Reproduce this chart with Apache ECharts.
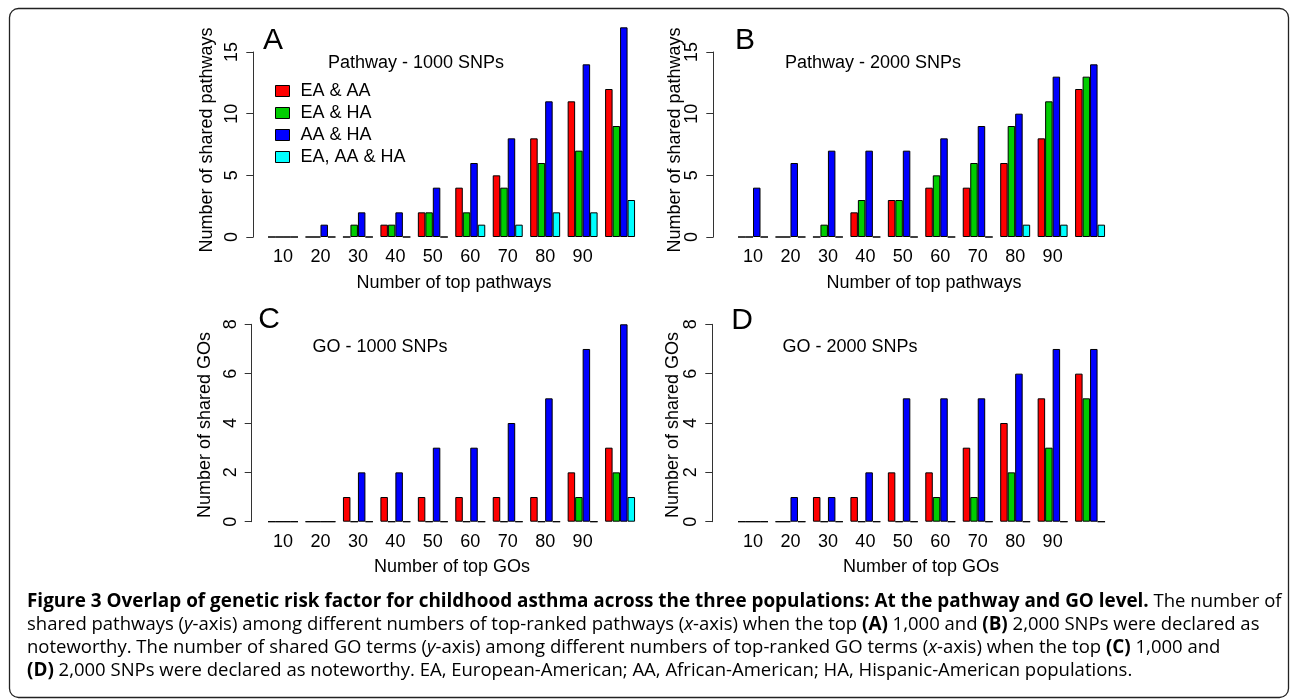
<!DOCTYPE html>
<html>
<head>
<meta charset="utf-8">
<script src="https://cdn.jsdelivr.net/npm/echarts@6/dist/echarts.min.js"></script>
<style>
html,body{margin:0;padding:0;background:#fff;}
#c{width:1290px;height:700px;}
</style>
</head>
<body>
<div id="c"></div>
<script>
// ---------- data ----------
const categories = ['10', '20', '30', '40', '50', '60', '70', '80', '90', ''];
const seriesNames = ['EA & AA', 'EA & HA', 'AA & HA', 'EA, AA & HA'];

// Panel A: Pathway - 1000 SNPs
const A_EA_AA   = [0, 0, 0, 1, 2, 4, 5, 8, 11, 12];
const A_EA_HA   = [0, 0, 1, 1, 2, 2, 4, 6, 7, 9];
const A_AA_HA   = [0, 1, 2, 2, 4, 6, 8, 11, 14, 17];
const A_ALL     = [0, 0, 0, 0, 0, 1, 1, 2, 2, 3];
// Panel B: Pathway - 2000 SNPs
const B_EA_AA   = [0, 0, 0, 2, 3, 4, 4, 6, 8, 12];
const B_EA_HA   = [0, 0, 1, 3, 3, 5, 6, 9, 11, 13];
const B_AA_HA   = [4, 6, 7, 7, 7, 8, 9, 10, 13, 14];
const B_ALL     = [0, 0, 0, 0, 0, 0, 0, 1, 1, 1];
// Panel C: GO - 1000 SNPs
const C_EA_AA   = [0, 0, 1, 1, 1, 1, 1, 1, 2, 3];
const C_EA_HA   = [0, 0, 0, 0, 0, 0, 0, 0, 1, 2];
const C_AA_HA   = [0, 0, 2, 2, 3, 3, 4, 5, 7, 8];
const C_ALL     = [0, 0, 0, 0, 0, 0, 0, 0, 0, 1];
// Panel D: GO - 2000 SNPs
const D_EA_AA   = [0, 0, 1, 1, 2, 2, 3, 4, 5, 6];
const D_EA_HA   = [0, 0, 0, 0, 0, 1, 1, 2, 3, 5];
const D_AA_HA   = [0, 1, 1, 2, 5, 5, 5, 6, 7, 7];
const D_ALL     = [0, 0, 0, 0, 0, 0, 0, 0, 0, 0];

const yTicksPathway = [0, 5, 10, 15];
const yTicksGO = [0, 2, 4, 6, 8];

// ---------- styling / layout ----------
const barColors = ['#FF0000', '#00CD00', '#0000FF', '#00FFFF'];
const FONT = 'Liberation Sans, Arial, sans-serif';

const panels = [
  { letter: 'A', title: 'Pathway - 1000 SNPs', xName: 'Number of top pathways', yName: 'Number of shared pathways',
    data: [A_EA_AA, A_EA_HA, A_AA_HA, A_ALL], ticks: yTicksPathway,
    grid: { left: 264.3, top: 52, width: 374.5, height: 185 }, axisX: 253.3,
    letterPos: [273, 41], titlePos: [416, 63], xNamePos: [454, 283], yNamePos: [207, 140] },
  { letter: 'B', title: 'Pathway - 2000 SNPs', xName: 'Number of top pathways', yName: 'Number of shared pathways',
    data: [B_EA_AA, B_EA_HA, B_AA_HA, B_ALL], ticks: yTicksPathway,
    grid: { left: 734.3, top: 52, width: 374.5, height: 185 }, axisX: 713.3,
    letterPos: [745, 41], titlePos: [873, 63], xNamePos: [924, 283], yNamePos: [675, 140] },
  { letter: 'C', title: 'GO - 1000 SNPs', xName: 'Number of top GOs', yName: 'Number of shared GOs',
    data: [C_EA_AA, C_EA_HA, C_AA_HA, C_ALL], ticks: yTicksGO,
    grid: { left: 264.3, top: 324.3, width: 374.5, height: 197.4 }, axisX: 251.7,
    letterPos: [269, 320], titlePos: [380, 347], xNamePos: [452, 567], yNamePos: [205, 425] },
  { letter: 'D', title: 'GO - 2000 SNPs', xName: 'Number of top GOs', yName: 'Number of shared GOs',
    data: [D_EA_AA, D_EA_HA, D_AA_HA, D_ALL], ticks: yTicksGO,
    grid: { left: 734.3, top: 324.3, width: 374.5, height: 197.4 }, axisX: 712.3,
    letterPos: [742, 321], titlePos: [850, 347], xNamePos: [921, 567], yNamePos: [673, 425] }
];

const grids = [], xAxes = [], yAxes = [], series = [], graphics = [];

panels.forEach((p, i) => {
  grids.push(Object.assign({ containLabel: false }, p.grid));
  xAxes.push({
    type: 'category', gridIndex: i, data: categories,
    axisLine: { show: false }, axisTick: { show: false }, splitLine: { show: false },
    axisLabel: { interval: 0, fontFamily: FONT, fontSize: 18, color: '#000', margin: 11 }
  });
  const t = p.ticks;
  yAxes.push({
    type: 'value', gridIndex: i, min: t[0], max: t[t.length - 1], interval: t[1] - t[0],
    offset: p.grid.left - p.axisX,
    axisLine: { show: true, lineStyle: { color: '#333', width: 1 } },
    axisTick: { show: true, length: 7, lineStyle: { color: '#333' } },
    splitLine: { show: false },
    axisLabel: { rotate: 90, fontFamily: FONT, fontSize: 18, color: '#000', margin: 12 }
  });
  p.data.forEach((arr, k) => {
    series.push({
      type: 'bar', name: seriesNames[k], xAxisIndex: i, yAxisIndex: i, data: arr,
      barGap: '0%', barCategoryGap: '20%', clip: false,
      itemStyle: { color: barColors[k], borderColor: '#000', borderWidth: 1 },
      emphasis: { disabled: true }
    });
  });
  graphics.push({ type: 'text', x: p.letterPos[0], y: p.letterPos[1],
    style: { text: p.letter, font: '30px ' + FONT, fill: '#000', textAlign: 'center', textVerticalAlign: 'middle' } });
  graphics.push({ type: 'text', x: p.titlePos[0], y: p.titlePos[1],
    style: { text: p.title, font: '18px ' + FONT, fill: '#000', textAlign: 'center', textVerticalAlign: 'middle' } });
  graphics.push({ type: 'text', x: p.xNamePos[0], y: p.xNamePos[1],
    style: { text: p.xName, font: '18px ' + FONT, fill: '#000', textAlign: 'center', textVerticalAlign: 'middle' } });
  graphics.push({ type: 'text', x: p.yNamePos[0], y: p.yNamePos[1], rotation: Math.PI / 2,
    style: { text: p.yName, font: '18px ' + FONT, fill: '#000', textAlign: 'center', textVerticalAlign: 'middle' } });
});

// outer rounded frame
graphics.push({ type: 'rect', shape: { x: 9.5, y: 8.5, width: 1279, height: 689, r: 9 },
  style: { fill: 'none', stroke: '#222', lineWidth: 1.3 }, z: -1 });

// caption
const CAP = 'Open Sans, sans-serif';
const CAPSIZE = 18.5;
const capRich = {
  b: { fontFamily: CAP, fontWeight: 'bold', fontSize: 18.9, color: '#000' },
  n: { fontFamily: CAP, fontSize: CAPSIZE, color: '#3c3c3c' },
  i: { fontFamily: CAP, fontSize: CAPSIZE, fontStyle: 'italic', color: '#3c3c3c' }
};
const capLines = [
  '{b|Figure 3 Overlap of genetic risk factor for childhood asthma across the three populations: At the pathway and GO level.}{n| The number of}',
  '{n|shared pathways (}{i|y}{n|-axis) among different numbers of top-ranked pathways (}{i|x}{n|-axis) when the top }{b|(A)}{n| 1,000 and }{b|(B)}{n| 2,000 SNPs were declared as}',
  '{n|noteworthy. The number of shared GO terms (}{i|y}{n|-axis) among different numbers of top-ranked GO terms (}{i|x}{n|-axis) when the top }{b|(C)}{n| 1,000 and}',
  '{b|(D)}{n| 2,000 SNPs were declared as noteworthy. EA, European-American; AA, African-American; HA, Hispanic-American populations.}'
];
const capY = [602, 625, 648, 671];
capLines.forEach((s, j) => {
  graphics.push({ type: 'text', x: 27, y: capY[j],
    style: { text: s, rich: capRich, textVerticalAlign: 'middle', textAlign: 'left' } });
});

const chart = echarts.init(document.getElementById('c'), null, { renderer: 'canvas' });
chart.setOption({
  animation: false,
  backgroundColor: '#fff',
  grid: grids, xAxis: xAxes, yAxis: yAxes, series: series,
  legend: {
    data: seriesNames, orient: 'vertical', left: 270, top: 77,
    itemWidth: 14, itemHeight: 11, itemGap: 4, icon: 'rect',
    selectedMode: false,
    itemStyle: { borderColor: '#000', borderWidth: 1 },
    textStyle: { fontFamily: FONT, fontSize: 18, color: '#000', padding: [0, 0, 0, 6], lineHeight: 18 }
  },
  graphic: graphics
});
</script>
</body>
</html>
